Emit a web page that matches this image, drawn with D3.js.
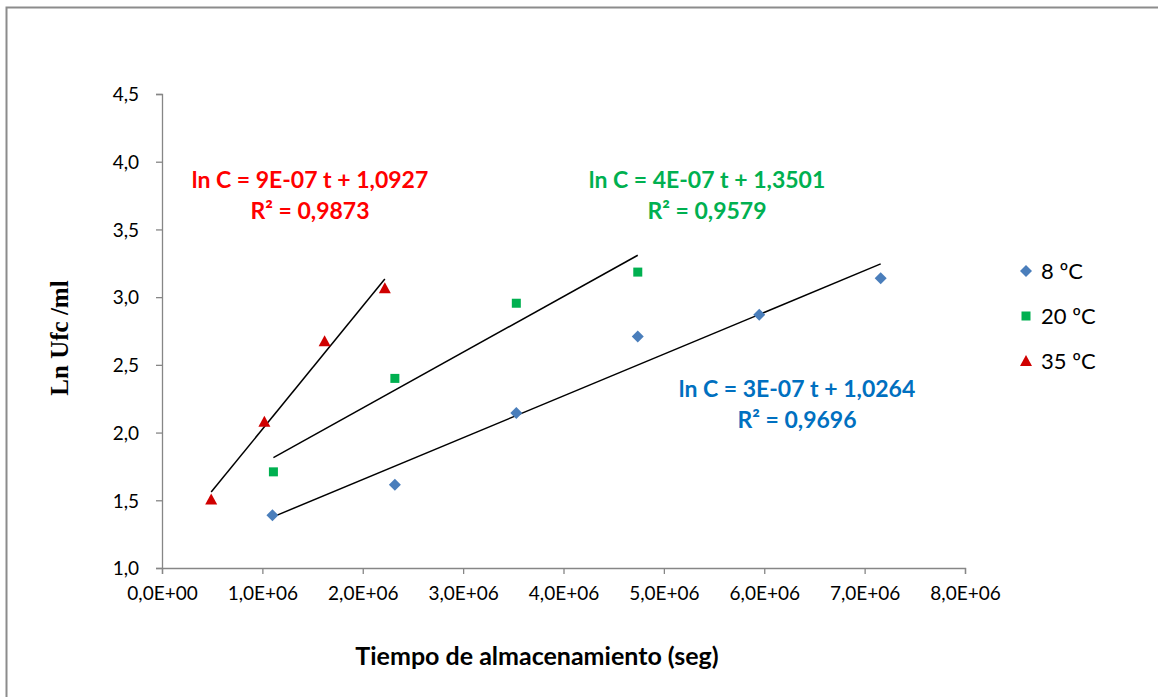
<!DOCTYPE html>
<html><head><meta charset="utf-8">
<script src="https://cdn.jsdelivr.net/npm/d3@7"></script>
<style>body{margin:0;background:#fff}svg{display:block}</style>
</head><body>
<svg id="c" width="1158" height="697"></svg>
<script>
const xTicks = [0,1e6,2e6,3e6,4e6,5e6,6e6,7e6,8e6];
const xTickLabels = ["0,0E+00","1,0E+06","2,0E+06","3,0E+06","4,0E+06","5,0E+06","6,0E+06","7,0E+06","8,0E+06"];
const yTicks = [1.0,1.5,2.0,2.5,3.0,3.5,4.0,4.5];
const yTickLabels = ["1,0","1,5","2,0","2,5","3,0","3,5","4,0","4,5"];
const seriesNames = ["8 ºC","20 ºC","35 ºC"];
const t8 = [1.10e6,2.32e6,3.53e6,4.74e6,5.95e6,7.16e6];
const v8 = [1.39,1.615,2.145,2.71,2.87,3.14];
const t20 = [1.11e6,2.32e6,3.53e6,4.74e6];
const v20 = [1.71,2.40,2.955,3.185];
const t35 = [0.49e6,1.02e6,1.62e6,2.22e6];
const v35 = [1.505,2.08,2.675,3.065];
const eqTexts = [["ln C = 3E-07 t + 1,0264","R² = 0,9696"],["ln C = 4E-07 t + 1,3501","R² = 0,9579"],["ln C = 9E-07 t + 1,0927","R² = 0,9873"]];

const svg = d3.select("#c");
svg.append("rect").attr("x",6.5).attr("y",7.5).attr("width",1200).attr("height",800)
  .attr("fill","none").attr("stroke","#8c8c8c").attr("stroke-width",2);

const x = d3.scaleLinear().domain([0,8e6]).range([162,965]);
const y = d3.scaleLinear().domain([1,4.5]).range([568,94]);
const font = "Lato, 'Open Sans', sans-serif";

const xa = svg.append("g").attr("transform","translate(0,568)")
  .call(d3.axisBottom(x).tickValues(xTicks).tickFormat((d,i)=>xTickLabels[i]).tickSizeOuter(0).tickSize(6));
const ya = svg.append("g").attr("transform","translate(162,0)")
  .call(d3.axisLeft(y).tickValues(yTicks).tickFormat((d,i)=>yTickLabels[i]).tickSizeOuter(0).tickSize(6));
[xa,ya].forEach(a=>{
  a.select(".domain").attr("stroke","#868686").attr("stroke-width",1.3);
  a.selectAll(".tick line").attr("stroke","#868686").attr("stroke-width",1.3);
  a.selectAll("text").attr("font-family",font).attr("font-size",19).attr("fill","#000");
});
xa.selectAll("text").attr("dy","1.2em");
ya.selectAll("text").attr("dx",-14).attr("dy","0.36em");

const series = [
  {t:t8,v:v8,color:"#4a7ebb",shape:"diamond",eqColor:"#0070c0",eqX:797,eqY:397},
  {t:t20,v:v20,color:"#00b050",shape:"square",eqColor:"#00b050",eqX:707,eqY:188},
  {t:t35,v:v35,color:"#d00000",shape:"triangle",eqColor:"#ff0000",eqX:310,eqY:188}
];

function fit(t,v){
  const n=t.length, mx=d3.mean(t), my=d3.mean(v);
  let sxy=0,sxx=0; for(let i=0;i<n;i++){sxy+=(t[i]-mx)*(v[i]-my);sxx+=(t[i]-mx)**2;}
  const b=sxy/sxx; return {b,a:my-b*mx};
}
function marker(g,shape,color){
  if(shape==="diamond") g.append("path").attr("d","M0,-6L6,0L0,6L-6,0Z").attr("fill",color);
  else if(shape==="square") g.append("rect").attr("x",-4.5).attr("y",-4.5).attr("width",9).attr("height",9).attr("fill",color);
  else g.append("path").attr("d","M0,-6L6,5L-6,5Z").attr("fill",color);
}

series.forEach((s,k)=>{
  const f=fit(s.t,s.v);
  const t0=d3.min(s.t), t1=d3.max(s.t);
  svg.append("line").attr("x1",x(t0)).attr("y1",y(f.a+f.b*t0)).attr("x2",x(t1)).attr("y2",y(f.a+f.b*t1))
    .attr("stroke","#000").attr("stroke-width",1.5);
});
series.forEach((s,k)=>{
  s.t.forEach((t,i)=>{
    const g=svg.append("g").attr("transform",`translate(${x(t)},${y(s.v[i])})`);
    marker(g,s.shape,s.color);
  });
  const tx=svg.append("text").attr("x",s.eqX).attr("y",s.eqY).attr("text-anchor","middle")
    .attr("font-family",font).attr("font-weight","bold").attr("font-size",23).attr("fill",s.eqColor);
  tx.append("tspan").attr("x",s.eqX).text(eqTexts[k][0]);
  tx.append("tspan").attr("x",s.eqX).attr("dy",31).text(eqTexts[k][1]);
  const ly=271+45*k;
  const lg=svg.append("g").attr("transform",`translate(1026,${ly})`);
  marker(lg,s.shape,s.color);
  svg.append("text").attr("x",1041).attr("y",ly+8).attr("font-family",font).attr("font-size",22).text(seriesNames[k]);
});

svg.append("text").attr("x",537).attr("y",665).attr("text-anchor","middle")
  .attr("font-family",font).attr("font-weight","bold").attr("font-size",25).text("Tiempo de almacenamiento (seg)");
svg.append("text").attr("transform","translate(68,338) rotate(-90)").attr("text-anchor","middle")
  .attr("font-family","'Liberation Serif', 'Times New Roman', serif").attr("font-weight","bold").attr("font-size",25).text("Ln Ufc /ml");
</script>
</body></html>
